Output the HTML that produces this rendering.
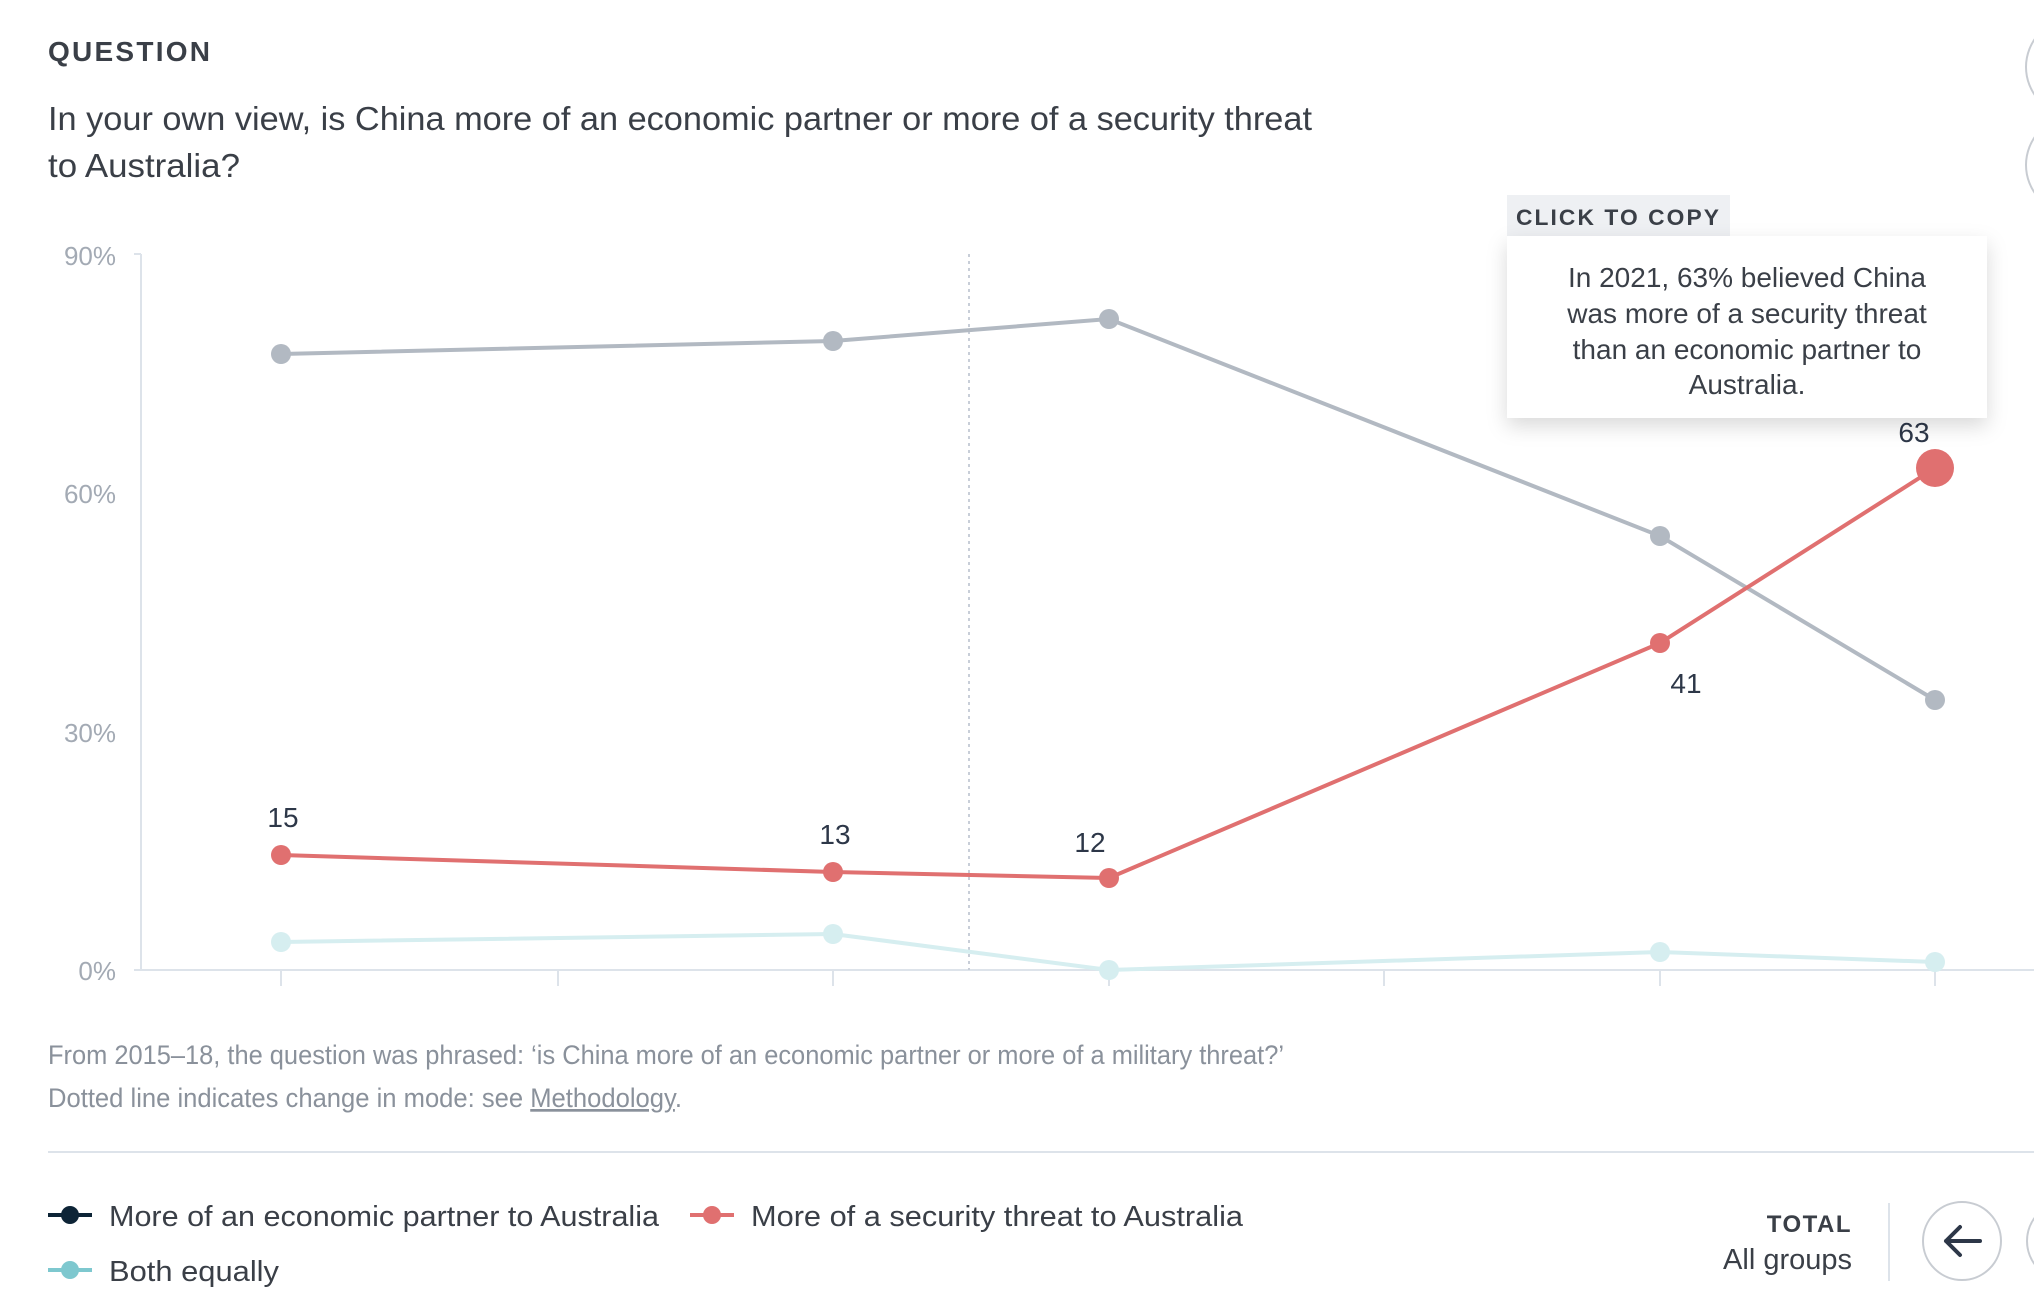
<!DOCTYPE html>
<html><head><meta charset="utf-8"><style>
html,body{margin:0;padding:0;background:#fff;}
svg{display:block;}
text{font-family:"Liberation Sans",sans-serif;}
</style></head><body>
<svg width="2034" height="1312" viewBox="0 0 2034 1312" xmlns="http://www.w3.org/2000/svg">
<defs>
<filter id="sh" x="-20%" y="-20%" width="140%" height="160%"><feDropShadow dx="0" dy="8" stdDeviation="10" flood-color="#000" flood-opacity="0.15"/></filter>
</defs>
<rect width="2034" height="1312" fill="#fff"/>
<text x="48" y="61" font-size="28" font-weight="bold" fill="#3a3f47" letter-spacing="2" textLength="164">QUESTION</text>
<text x="48" y="130" font-size="33" fill="#3a3f47" textLength="1264" lengthAdjust="spacingAndGlyphs">In your own view, is China more of an economic partner or more of a security threat</text>
<text x="48" y="177" font-size="33" fill="#3a3f47" textLength="192" lengthAdjust="spacingAndGlyphs">to Australia?</text>
<circle cx="2075" cy="67" r="49" fill="none" stroke="#c8ccd2" stroke-width="2"/>
<circle cx="2075" cy="165" r="49" fill="none" stroke="#c8ccd2" stroke-width="2"/>
<g font-size="26" fill="#a3aab4" text-anchor="end">
<text x="116" y="265">90%</text>
<text x="116" y="503">60%</text>
<text x="116" y="742">30%</text>
<text x="116" y="980">0%</text>
</g>
<line x1="134" y1="254" x2="141" y2="254" stroke="#dde3ea" stroke-width="2"/>
<line x1="141" y1="254" x2="141" y2="970" stroke="#dde3ea" stroke-width="2"/>
<line x1="134" y1="970" x2="2034" y2="970" stroke="#dde3ea" stroke-width="2"/>
<g stroke="#dde3ea" stroke-width="2">
<line x1="281" y1="970" x2="281" y2="986"/><line x1="558" y1="970" x2="558" y2="986"/>
<line x1="833" y1="970" x2="833" y2="986"/><line x1="1109" y1="970" x2="1109" y2="986"/>
<line x1="1384" y1="970" x2="1384" y2="986"/><line x1="1660" y1="970" x2="1660" y2="986"/>
<line x1="1935" y1="970" x2="1935" y2="986"/>
</g>
<line x1="969" y1="254" x2="969" y2="970" stroke="#c8ced8" stroke-width="2" stroke-dasharray="3,4"/>
<polyline points="281,942 833,934 1109,970 1660,952 1935,962" fill="none" stroke="#d6eef0" stroke-width="4"/>
<g fill="#d6eef0"><circle cx="281" cy="942" r="10"/><circle cx="833" cy="934" r="10"/><circle cx="1109" cy="970" r="10"/><circle cx="1660" cy="952" r="10"/><circle cx="1935" cy="962" r="10"/></g>
<polyline points="281,354 833,341 1109,319 1660,536 1935,700" fill="none" stroke="#b2b9c2" stroke-width="4"/>
<g fill="#b2b9c2"><circle cx="281" cy="354" r="10"/><circle cx="833" cy="341" r="10"/><circle cx="1109" cy="319" r="10"/><circle cx="1660" cy="536" r="10"/><circle cx="1935" cy="700" r="10"/></g>
<polyline points="281,855 833,872 1109,878 1660,643 1935,468" fill="none" stroke="#e07070" stroke-width="4"/>
<g fill="#e07070"><circle cx="281" cy="855" r="10"/><circle cx="833" cy="872" r="10"/><circle cx="1109" cy="878" r="10"/><circle cx="1660" cy="643" r="10"/><circle cx="1935" cy="468" r="19"/></g>
<g font-size="28" fill="#2d3748" text-anchor="middle">
<text x="283" y="827">15</text>
<text x="835" y="844">13</text>
<text x="1090" y="852">12</text>
<text x="1686" y="693">41</text>
<text x="1914" y="442">63</text>
</g>
<rect x="1507" y="195" width="223" height="42" fill="#eef0f3"/>
<text x="1516" y="225" font-size="22" font-weight="bold" fill="#3a3f47" letter-spacing="2" textLength="205" lengthAdjust="spacingAndGlyphs">CLICK TO COPY</text>
<rect x="1507" y="236" width="480" height="182" fill="#fff" filter="url(#sh)"/>
<g font-size="28" fill="#3a3f47" text-anchor="middle">
<text x="1747" y="287">In 2021, 63% believed China</text>
<text x="1747" y="323">was more of a security threat</text>
<text x="1747" y="359">than an economic partner to</text>
<text x="1747" y="394">Australia.</text>
</g>
<g font-size="27" fill="#8a919b">
<text x="48" y="1064" textLength="1236" lengthAdjust="spacingAndGlyphs" style="font-family:'Liberation Sans Narrow','Liberation Sans',sans-serif">From 2015–18, the question was phrased: ‘is China more of an economic partner or more of a military threat?’</text>
<text x="48" y="1107" textLength="634" lengthAdjust="spacingAndGlyphs" style="font-family:'Liberation Sans Narrow','Liberation Sans',sans-serif">Dotted line indicates change in mode: see <tspan text-decoration="underline">Methodology</tspan>.</text>
</g>
<line x1="48" y1="1152" x2="2034" y2="1152" stroke="#dde3ea" stroke-width="2"/>
<line x1="48" y1="1215" x2="92" y2="1215" stroke="#0d2436" stroke-width="4"/><circle cx="70" cy="1215" r="9" fill="#0d2436"/>
<text x="109" y="1226" font-size="29" fill="#3a3f47" textLength="550" lengthAdjust="spacingAndGlyphs">More of an economic partner to Australia</text>
<line x1="690" y1="1215" x2="734" y2="1215" stroke="#e07070" stroke-width="4"/><circle cx="712" cy="1215" r="9" fill="#e07070"/>
<text x="751" y="1226" font-size="29" fill="#3a3f47" textLength="492" lengthAdjust="spacingAndGlyphs">More of a security threat to Australia</text>
<line x1="48" y1="1270" x2="92" y2="1270" stroke="#7ec8cf" stroke-width="4"/><circle cx="70" cy="1270" r="9" fill="#7ec8cf"/>
<text x="109" y="1281" font-size="29" fill="#3a3f47" textLength="170" lengthAdjust="spacingAndGlyphs">Both equally</text>
<text x="1852" y="1232" font-size="24" font-weight="bold" fill="#3a3f47" text-anchor="end" letter-spacing="1.5">TOTAL</text>
<text x="1852" y="1269" font-size="29" fill="#3a3f47" text-anchor="end">All groups</text>
<line x1="1889" y1="1203" x2="1889" y2="1281" stroke="#dde3ea" stroke-width="2"/>
<circle cx="1962" cy="1241" r="39" fill="#fff" stroke="#c8ccd2" stroke-width="2"/>
<path d="M1946 1241 H1980 M1946 1241 L1960 1227 M1946 1241 L1960 1255" stroke="#2d3748" stroke-width="4" fill="none" stroke-linecap="round"/>
<circle cx="2066" cy="1241" r="39" fill="#fff" stroke="#c8ccd2" stroke-width="2"/>
</svg>
</body></html>
